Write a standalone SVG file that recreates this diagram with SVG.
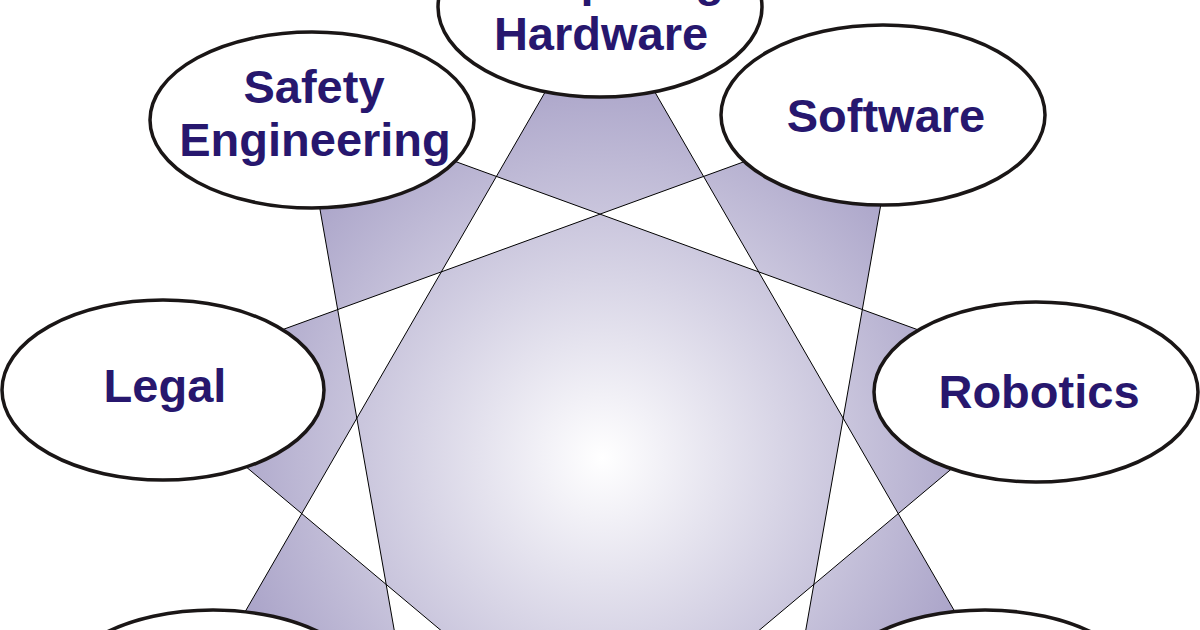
<svg xmlns="http://www.w3.org/2000/svg" width="1200" height="630" viewBox="0 0 1200 630">
  <defs>
    <radialGradient id="starGrad" gradientUnits="userSpaceOnUse" cx="602" cy="458" r="420">
      <stop offset="0" stop-color="#ffffff"/>
      <stop offset="1" stop-color="#a39cc4"/>
    </radialGradient>
    <style>
      .node ellipse { fill: #ffffff; stroke: #1a1616; stroke-width: 3.5; }
      .node text { font-family: "Liberation Sans", Arial, sans-serif; font-weight: bold; font-size: 47px; fill: #27176e; text-anchor: middle; }
      .star { fill: url(#starGrad); fill-rule: evenodd; stroke: #000000; stroke-width: 1; stroke-linejoin: miter; }
    </style>
  </defs>
  <rect width="1200" height="630" fill="#ffffff"/>
  <g id="connectors">
    <path class="star" d="M600,-3 L1001.8,693 L198.2,693 Z M898.3,105.6 L758.7,897 L143,380.4 Z M1057,380.4 L441.3,897 L301.7,105.6 Z"/>
  </g>
  <g id="node-computing-hardware" class="node">
    <ellipse cx="600" cy="7" rx="162" ry="90"/>
    <text x="600" y="-4">Computing</text>
    <text x="601" y="50">Hardware</text>
  </g>
  <g id="node-safety-engineering" class="node">
    <ellipse cx="312" cy="120" rx="162" ry="88"/>
    <text x="314" y="103">Safety</text>
    <text x="315" y="156">Engineering</text>
  </g>
  <g id="node-software" class="node">
    <ellipse cx="883" cy="115" rx="162" ry="90"/>
    <text x="886" y="132">Software</text>
  </g>
  <g id="node-legal" class="node">
    <ellipse cx="163" cy="390" rx="161" ry="90"/>
    <text x="165" y="402">Legal</text>
  </g>
  <g id="node-robotics" class="node">
    <ellipse cx="1036" cy="392" rx="162" ry="90"/>
    <text x="1039" y="408">Robotics</text>
  </g>
  <g id="node-bottom-left" class="node">
    <ellipse cx="213" cy="700" rx="162" ry="90"/>
  </g>
  <g id="node-bottom-right" class="node">
    <ellipse cx="985" cy="700" rx="162" ry="90"/>
  </g>
</svg>
